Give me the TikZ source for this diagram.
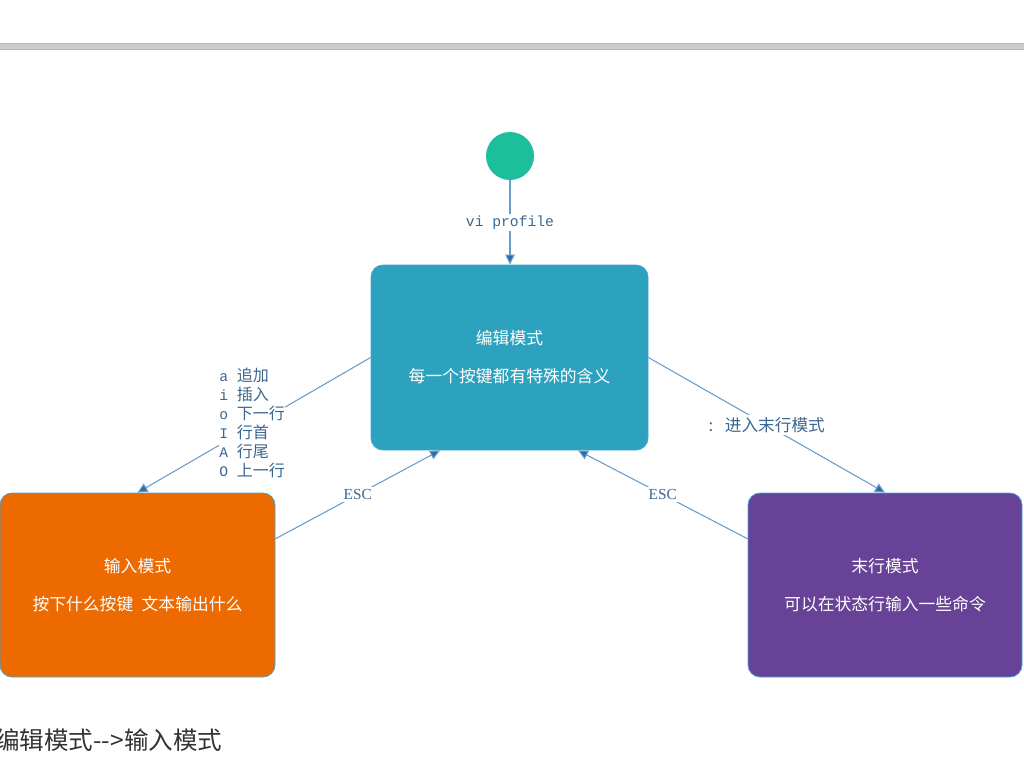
\documentclass[tikz,border=0pt]{standalone}
\usepackage{fontspec}
\newfontfamily\cjk{Noto Sans CJK SC}
\newfontfamily\monof{Liberation Mono}
\newfontfamily\seriff{Liberation Serif}
\usetikzlibrary{arrows.meta,calc}
\definecolor{startc}{HTML}{1CBE9B}
\definecolor{editc}{HTML}{2CA2BF}
\definecolor{inputc}{HTML}{EC6A00}
\definecolor{lastc}{HTML}{674296}
\definecolor{borderc}{HTML}{45A3DA}
\definecolor{edgec}{HTML}{6A9BCB}
\definecolor{lblc}{HTML}{3A6792}
\definecolor{tipc}{HTML}{2E6BA8}
\definecolor{textc}{HTML}{333333}
\tikzset{
  box/.style={draw=borderc, line width=0.6pt, rounded corners=9pt, text=white,
    font=\cjk\fontsize{12.6}{28.5}\selectfont, align=center, inner sep=0pt},
  edge/.style={draw=edgec, line width=0.8pt, -{Triangle[length=7.5pt,width=7pt,fill=tipc]}},
  lbl/.style={fill=white, text=lblc, inner sep=1.5pt, pos=0.5},
}
\begin{document}
\begin{tikzpicture}[x=0.75pt,y=-0.75pt]
\useasboundingbox (0,0) rectangle (1024,768);
% top rule
\fill[black!20] (0,43) rectangle (1024,50);
\draw[black!28, line width=0.6pt] (0,43.3) -- (1024,43.3);
\draw[black!28, line width=0.6pt] (0,49.7) -- (1024,49.7);

\node[circle, fill=startc, minimum size={48*0.75pt}, inner sep=0pt] (start) at (510,156) {};

\node[box, fill=editc, minimum width={277*0.75pt}, minimum height={185*0.75pt}] (edit) at (509.5,357.5)
  {编辑模式\\每一个按键都有特殊的含义};
\node[box, fill=inputc, minimum width={275*0.75pt}, minimum height={184*0.75pt}] (input) at (137.5,585)
  {输入模式\\按下什么按键\hspace{0.5em}文本输出什么};
\node[box, fill=lastc, minimum width={274*0.75pt}, minimum height={184*0.75pt}] (last) at (885,585)
  {末行模式\\可以在状态行输入一些命令};

\draw[edge] (start) -- node[lbl, font=\monof\fontsize{11}{12}\selectfont] {vi profile} (start |- edit.north);

\draw[edge] (edit.west) -- node[lbl, inner sep=0.5pt, xshift=-1.5pt]
  {\fontsize{11}{13.9}\selectfont
   \begin{tabular}{@{}l@{\hspace{6.5pt}}l@{}}
   \monof a & \cjk\fontsize{12}{13.9}\selectfont 追加\\
   \monof i & \cjk\fontsize{12}{13.9}\selectfont 插入\\
   \monof o & \cjk\fontsize{12}{13.9}\selectfont 下一行\\
   \monof I & \cjk\fontsize{12}{13.9}\selectfont 行首\\
   \monof A & \cjk\fontsize{12}{13.9}\selectfont 行尾\\
   \monof O & \cjk\fontsize{12}{13.9}\selectfont 上一行
   \end{tabular}} (input.north);

\draw[edge] ($(input.north east)!0.25!(input.south east)$) --
  node[lbl, font=\seriff\fontsize{11.5}{12}\selectfont] {ESC} ([xshift={-69.5*0.75pt}]edit.south);

\draw[edge] (edit.east) -- node[lbl, font=\cjk\fontsize{12.5}{13}\selectfont] {:\hspace{0.7em}进入末行模式} (last.north);

\draw[edge] ($(last.north west)!0.25!(last.south west)$) --
  node[lbl, font=\seriff\fontsize{11.5}{12}\selectfont] {ESC} ([xshift={68.5*0.75pt}]edit.south);

\node[anchor=west, text=textc, font=\cjk\fontsize{18.4}{20}\selectfont, inner sep=0pt] (note) at (-5,740)
  {编辑模式-{}-{}>输入模式};
\end{tikzpicture}
\end{document}
